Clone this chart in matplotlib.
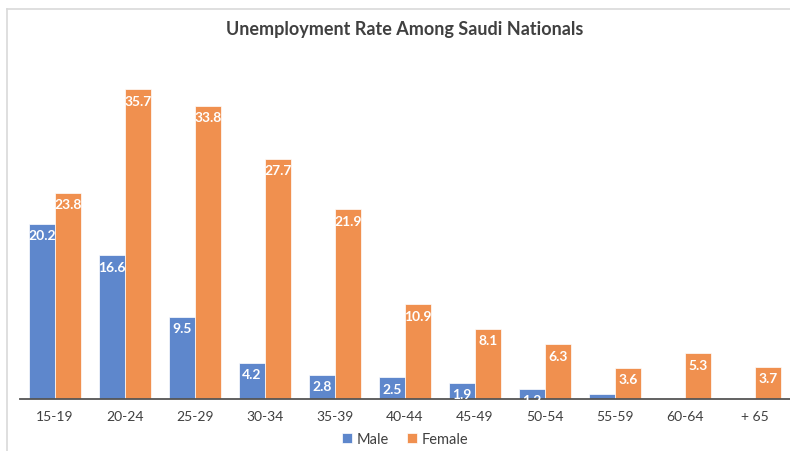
import matplotlib
matplotlib.use("Agg")
import matplotlib.pyplot as plt
from matplotlib.lines import Line2D
import numpy as np

plt.rcParams['font.family'] = ['Lato', 'DejaVu Sans']

categories = ["15-19", "20-24", "25-29", "30-34", "35-39", "40-44", "45-49", "50-54", "55-59", "60-64", "+ 65"]
male = [20.2, 16.6, 9.5, 4.2, 2.8, 2.5, 1.9, 1.2, 0.6, 0.0, 0.0]
female = [23.8, 35.7, 33.8, 27.7, 21.9, 10.9, 8.1, 6.3, 3.6, 5.3, 3.7]
male_labels = ["20.2", "16.6", "9.5", "4.2", "2.8", "2.5", "1.9", "1.2", "", "", ""]
female_labels = ["23.8", "35.7", "33.8", "27.7", "21.9", "10.9", "8.1", "6.3", "3.6", "5.3", "3.7"]

blue = '#5E87CC'
orange = '#F0904F'

fig = plt.figure(figsize=(7.9, 4.52), dpi=100)
ax = fig.add_axes([20/790, 1 - 400/452, 1 - 20/790, (400 - 53)/452])

x = np.arange(len(categories))
w = 0.37
bm = ax.bar(x - w/2, male, w, color=blue, edgecolor='white', linewidth=0.5, label='Male')
bf = ax.bar(x + w/2, female, w, color=orange, edgecolor='white', linewidth=0.5, label='Female')

for rect, lab in zip(bm, male_labels):
    if lab:
        ax.annotate(lab, (rect.get_x() + rect.get_width()/2, rect.get_height()),
                    xytext=(0, -4), textcoords='offset points', ha='center', va='top',
                    color='white', fontweight='bold', fontsize=10)
for rect, lab in zip(bf, female_labels):
    if lab:
        ax.annotate(lab, (rect.get_x() + rect.get_width()/2, rect.get_height()),
                    xytext=(0, -4), textcoords='offset points', ha='center', va='top',
                    color='white', fontweight='bold', fontsize=10)

ax.set_xlim(-0.5, len(categories) - 0.5)
ax.set_ylim(0, 40)
ax.set_xticks(x)
ax.set_xticklabels(categories, fontsize=10, color='#404040')
ax.tick_params(axis='x', length=0, pad=8)
ax.set_yticks([])
for s in ['top', 'right', 'left']:
    ax.spines[s].set_visible(False)
ax.spines['bottom'].set_color('#555555')
ax.spines['bottom'].set_linewidth(1.3)

fig.text(405/790, 1 - 30/452, "Unemployment Rate Among Saudi Nationals", ha='center', va='center',
         fontsize=13, fontweight='bold', color='#404040')

fig.legend(handles=[bm, bf], labels=['Male', 'Female'], loc='center', bbox_to_anchor=(405/790, 1 - 440/452),
           ncol=2, frameon=False, fontsize=10.5, handlelength=0.7, handleheight=0.7, handletextpad=0.3,
           columnspacing=1.2, labelcolor='#404040')

# chart border (cropped)
fig.add_artist(Line2D([7/790, 7/790], [0, 1 - 10/452], color='#D9D9D9', lw=1.2, transform=fig.transFigure))
fig.add_artist(Line2D([7/790, 1], [1 - 10/452, 1 - 10/452], color='#D9D9D9', lw=1.2, transform=fig.transFigure))

fig.savefig('out.png', dpi=100)
